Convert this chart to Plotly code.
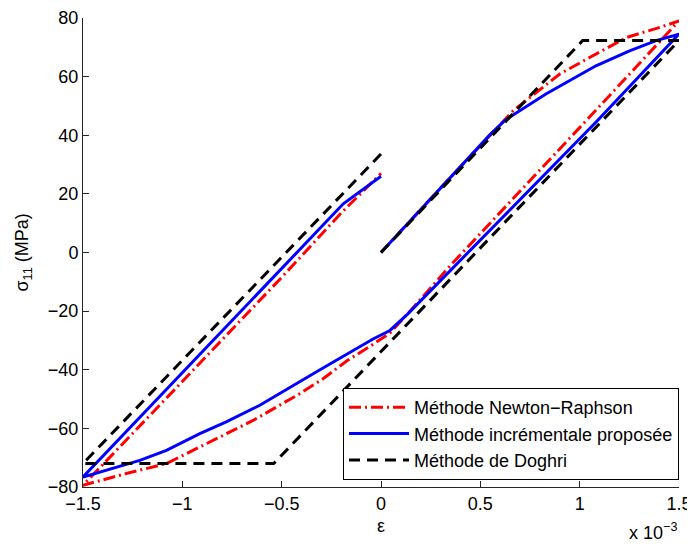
import plotly.graph_objects as go

# strain in units of 1e-3, stress in MPa
nr_x = [0, 0.3, 0.666, 0.9, 1.052, 1.237, 1.404, 1.5,
        1.033, 0.347, 0.146, 0.045, -0.055, -0.173, -0.29, -0.41, -0.644, -0.862, -1.08, -1.282, -1.5,
        -1.0, -0.5, -0.2, 0.0]
nr_y = [0, 22, 48.4, 60.9, 66.6, 73.4, 76.8, 79.0,
        45.0, -4.6, -20.0, -27.5, -32.0, -37.0, -43.0, -48.2, -57.3, -64.7, -72.0, -75.4, -79.4,
        -44.0, -8.5, 13.5, 27.0]

inc_x = [0, 0.3, 0.55, 0.628, 0.83, 1.082, 1.251, 1.385, 1.5,
         1.09, 0.134, 0.045, -0.04, -0.307, -0.427, -0.61, -0.779, -0.912, -1.08, -1.214, -1.5,
         -0.19, 0.0]
inc_y = [0, 22, 40.3, 45.3, 54.1, 63.7, 68.8, 72.3, 74.5,
         45.0, -21.0, -26.6, -29.5, -40.0, -44.8, -52.1, -57.8, -61.8, -67.5, -70.9, -76.6,
         16.6, 26.0]

dog_x = [0, 1.015, 1.5, -0.54, -1.5, 0.0]
dog_y = [0, 72.3, 72.3, -72.0, -72.0, 33.6]

names = ["Méthode Newton−Raphson", "Méthode incrémentale proposée", "Méthode de Doghri"]
colors = ["#ff0000", "#0000ff", "#000000"]
dashes = ["12px,4px,2px,4px", "solid", "11px,7px"]

x_ticks = [-1.5, -1, -0.5, 0, 0.5, 1, 1.5]
x_ticktext = ["−1.5", "−1", "−0.5", "0", "0.5", "1", "1.5"]
y_ticks = [-80, -60, -40, -20, 0, 20, 40, 60, 80]

FONT = "Liberation Sans, Arial, sans-serif"
FS = 18

fig = go.Figure()
for xs, ys, nm, c, d in zip([nr_x, inc_x, dog_x], [nr_y, inc_y, dog_y], names, colors, dashes):
    fig.add_trace(go.Scatter(x=xs, y=ys, mode="lines", name=nm,
                             line=dict(color=c, width=3, dash=d)))

fig.update_layout(
    width=687, height=538,
    margin=dict(l=75, r=16, t=10, b=59),
    paper_bgcolor="white", plot_bgcolor="white",
    font=dict(family=FONT, size=FS, color="black"),
    showlegend=True,
    legend=dict(x=1.0, xanchor="right", y=0.015, yanchor="bottom",
                bgcolor="white", bordercolor="black", borderwidth=1,
                font=dict(family=FONT, size=FS), tracegroupgap=0,
                itemwidth=60),
    xaxis=dict(range=[-1.5, 1.5], tickvals=x_ticks, ticktext=x_ticktext,
               ticks="inside", ticklen=6, tickcolor="#262626",
               showline=True, linecolor="#262626", linewidth=1, mirror=False,
               showgrid=False, zeroline=False, title=None, automargin=False),
    yaxis=dict(range=[-80, 80], tickvals=y_ticks,
               ticks="inside", ticklen=6, tickcolor="#262626",
               showline=True, linecolor="#262626", linewidth=1, mirror=False,
               showgrid=False, zeroline=False, title=None, automargin=False),
)

fig.add_annotation(text="ε", xref="paper", yref="paper", x=0.5, y=-0.083,
                   xanchor="center", yanchor="middle", showarrow=False,
                   font=dict(family=FONT, size=FS))
fig.add_annotation(text="x 10<sup>−3</sup>", xref="paper", yref="paper", x=1.0, y=-0.094,
                   xanchor="right", yanchor="middle", showarrow=False,
                   font=dict(family=FONT, size=FS))
fig.add_annotation(text="σ<sub>11</sub> (MPa)", xref="paper", yref="paper", x=-0.099, y=0.5,
                   xanchor="center", yanchor="middle", showarrow=False, textangle=-90,
                   font=dict(family=FONT, size=FS))

fig.write_html("out.html")
